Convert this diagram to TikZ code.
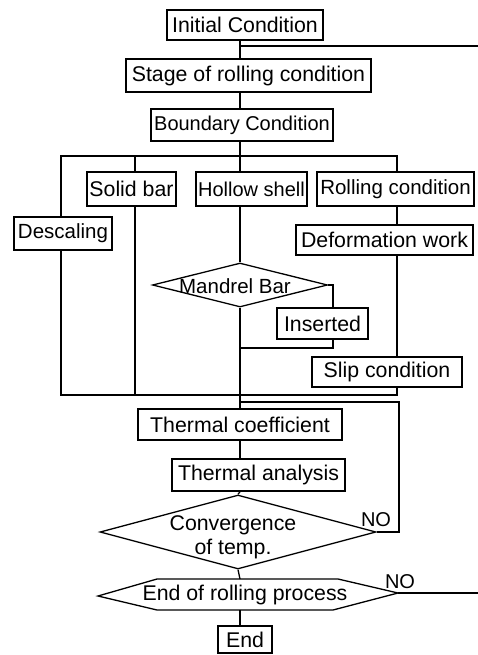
\documentclass[tikz,border=0pt]{standalone}
\usepackage{fontspec}
\setmainfont{Liberation Sans}
\usetikzlibrary{shapes.geometric}
\begin{document}
\begin{tikzpicture}[x=1pt,y=-1pt, line width=1.3pt,
  box/.style={draw, rectangle, inner sep=0pt, font=\fontsize{21.3}{24}\selectfont},
  txt/.style={inner sep=0pt, font=\fontsize{21.3}{24}\selectfont, align=center},
  diam/.style={draw, diamond, inner sep=0pt},
  lab/.style={inner sep=0pt, font=\fontsize{20}{22}\selectfont}]
\useasboundingbox (0,0) rectangle (478,655);
% nodes
\node[box, minimum width=156, minimum height=30] (init) at (245,25) {Initial Condition};
\node[box, minimum width=245, minimum height=33] (stage) at (248.5,75.5) {Stage of rolling condition};
\node[box, minimum width=182, minimum height=32, font=\fontsize{20}{24}\selectfont] (bound) at (242,125) {Boundary Condition};
\node[box, minimum width=89, minimum height=34] (solid) at (131.5,189) {Solid bar};
\node[box, minimum width=111, minimum height=34, font=\fontsize{20}{24}\selectfont] (hollow) at (251.5,189) {Hollow shell};
\node[box, minimum width=157, minimum height=34, font=\fontsize{20.5}{24}\selectfont] (rolling) at (395.5,189) {Rolling condition};
\node[box, minimum width=98, minimum height=33, font=\fontsize{20.5}{24}\selectfont] (desc) at (63,233.5) {Descaling};
\node[box, minimum width=177, minimum height=30] (deform) at (384.5,240) {Deformation work};
\node[diam, minimum width=175, minimum height=44] (mandrel) at (240,285) {};
\node[txt, font=\fontsize{20.5}{24}\selectfont] (mandreltxt) at (235,286) {Mandrel Bar};
\node[box, minimum width=91, minimum height=31] (inserted) at (322.5,323.5) {Inserted};
\node[box, minimum width=150, minimum height=30] (slip) at (387,372) {Slip condition};
\node[box, minimum width=204, minimum height=31] (thermcoef) at (240,424.5) {Thermal coefficient};
\node[box, minimum width=173, minimum height=32] (thermana) at (258.5,475) {Thermal analysis};
\node[diam, minimum width=276, minimum height=74] (conv) at (238,532) {};
\node[txt] (convtxt) at (233,537) {Convergence\\of temp.};
\node[txt] (er) at (245,595) {End of rolling process};
\coordinate (erL) at (98,596);
\coordinate (erTL) at (157,579);
\coordinate (erTR) at (338,579);
\coordinate (erR) at (398,593);
\coordinate (erBR) at (333,610);
\coordinate (erBL) at (157,610);
\draw (erL) -- (erTL) -- (erTR) -- (erR) -- (erBR) -- (erBL) -- cycle;
\node[box, minimum width=54, minimum height=27] (end) at (245,639.5) {End};
\node[lab] (no1) at (376,520) {NO};
\node[lab] (no2) at (400,582) {NO};
% helper coordinates
\coordinate (tx) at (240,0);
\coordinate (sx) at (135,0);
\coordinate (ix) at (333,0);
\coordinate (j1) at (240,46);
\coordinate (rt) at (478,46);
\coordinate (bl) at (61,156);
\coordinate (br) at (397,156);
\coordinate (bb) at (0,395);
\coordinate (ij) at (240,348);
\coordinate (fb) at (399,402);
\coordinate (re) at (478,593);
% connectors
\draw (init.south -| tx) -- (stage.north -| tx);
\draw (j1) -- (rt);
\draw (stage.south -| tx) -- (bound.north -| tx);
\draw (bound.south -| tx) -- (tx |- bl);
\draw (desc.north -| bl) -- (bl) -- (br) -- (rolling.north -| br);
\draw (sx |- bl) -- (solid.north -| sx);
\draw (tx |- bl) -- (hollow.north -| tx);
\draw (desc.south -| bl) -- (bl |- bb) -- (br |- bb) -- (slip.south -| br);
\draw (solid.south -| sx) -- (sx |- bb);
\draw (hollow.south -| tx) -- (mandrel.north);
\draw (mandrel.south) -- (tx |- bb);
\draw (mandrel.east) -| (inserted.north -| ix);
\draw (inserted.south -| ix) |- (ij);
\draw (rolling.south -| br) -- (deform.north -| br);
\draw (deform.south -| br) -- (slip.north -| br);
\draw (tx |- bb) -- (thermcoef.north -| tx);
\draw (conv.east) -| (fb) -- (tx |- fb);
\draw (thermcoef.south -| tx) -- (thermana.north -| tx);
\draw (thermana.south -| tx) -- (conv.north);
\draw (conv.south) -- (tx |- erTL);
\draw (tx |- erBL) -- (end.north -| tx);
\draw (erR) -- (re);
\end{tikzpicture}
\end{document}
